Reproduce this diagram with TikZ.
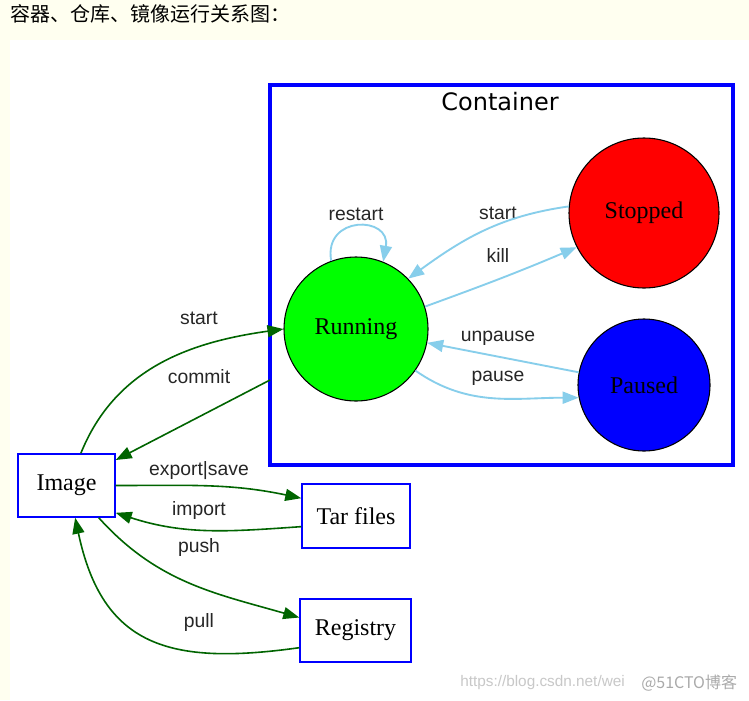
\documentclass[tikz,border=0pt]{standalone}
\usepackage{fontspec}
\setmainfont{Liberation Serif}
\setsansfont{Liberation Sans}
\newfontfamily\cjk{Noto Sans CJK SC}
\newfontfamily\titlefont{DejaVu Sans}
\usetikzlibrary{arrows.meta}
\definecolor{pagecream}{RGB}{255,255,240}
\definecolor{edgegreen}{RGB}{0,100,0}
\definecolor{edgesky}{RGB}{135,206,235}
\definecolor{markgray}{RGB}{200,200,200}

\tikzset{
  state/.style={circle,draw=black,line width=0.8pt,inner sep=0pt,font=\fontsize{18}{20}\selectfont},
  store/.style={rectangle,draw=blue,line width=1.1pt,fill=white,font=\fontsize{18}{20}\selectfont},
  elab/.style={inner sep=1pt,text=black!85,font=\sffamily\fontsize{14.5}{16}\selectfont},
  gedge/.style={edgegreen,line width=1.2pt,-{Triangle[length=12pt,width=9pt]}},
  bedge/.style={edgesky,line width=1.4pt,-{Triangle[length=12pt,width=9pt]}},
}

\begin{document}
\begin{tikzpicture}[x=0.75pt,y=-0.75pt]
  \useasboundingbox (0,0) rectangle (749,700);
  % page
  \fill[pagecream] (0,0) rectangle (749,700);
  \fill[white] (10,40) rectangle (749,700);
  \node[anchor=west,inner sep=0pt,font=\cjk\fontsize{15}{17}\selectfont] (head) at (10,14) {容器、仓库、镜像运行关系图：};
  % container cluster
  \draw[blue,line width=3pt] (270,85) rectangle (733,465);
  \node[font=\titlefont\fontsize{18}{20}\selectfont] (ctitle) at (500,102) {Container};
  \coordinate (cedge) at (270,380);
  % states
  \node[state,fill=green,minimum size=108pt] (run) at (356,329) {Running};
  \node[state,fill=red,minimum size=112.5pt] (stop) at (644,213) {Stopped};
  \node[state,fill=blue,minimum size=99pt] (pause) at (644,385) {Paused};
  % stores
  \node[store,minimum width=72.75pt,minimum height=47.25pt] (img) at (66.5,485.5) {Image};
  \node[store,minimum width=81pt,minimum height=48pt] (tar) at (356,516) {Tar files};
  \node[store,minimum width=83.25pt,minimum height=47.25pt] (reg) at (355.5,630.5) {Registry};
  % edge labels
  \foreach \name/\x/\y/\txt in {lrestart/356/214/restart, lstart/498/213/start, lkill/498/255/kill,
      lunpause/498/338/unpause, lpause/498/378/pause, lrun/199/318/start, lcommit/199/377/commit,
      lexport/199/471/{export|save}, limport/199/510/import, lpush/199/547/push, lpull/199/622/pull}
    \node[elab] (\name) at (\x,\y) {\txt};
  % state changes
  \draw[bedge] (run.110) to[out=100,in=80,looseness=2.3] (run.68);
  \draw[bedge] (stop.175) to[out=188,in=36] (run.44);
  \draw[bedge] (run.18) to[out=20,in=203] (stop.207);
  \draw[bedge] (pause.169) -- (run.-11);
  \draw[bedge] (run.-35) to[out=-35,in=180] (pause.191);
  % image commands
  \draw[gedge] (img.66) to[out=68,in=188] (run.west);
  \draw[gedge] (cedge) -- (img);
  \draw[gedge] (img.east) to[out=0,in=168] (tar.162);
  \draw[gedge] (tar.191) to[out=184,in=-18] (img.-29);
  \draw[gedge] (img.-45) to[out=-48,in=164] (reg.167);
  \draw[gedge] (reg.197) to[out=188,in=-78,looseness=1.3] (img.-75);
  % watermark
  \node[anchor=west,inner sep=0pt,text=markgray,font=\sffamily\fontsize{11.5}{13}\selectfont] (wmurl) at (460,683) {https://blog.csdn.net/wei};
  \node[anchor=west,inner sep=0pt,text=markgray!85!black,font=\cjk\fontsize{12}{14}\selectfont] (wmsite) at (641,683) {@51CTO博客};
\end{tikzpicture}
\end{document}
